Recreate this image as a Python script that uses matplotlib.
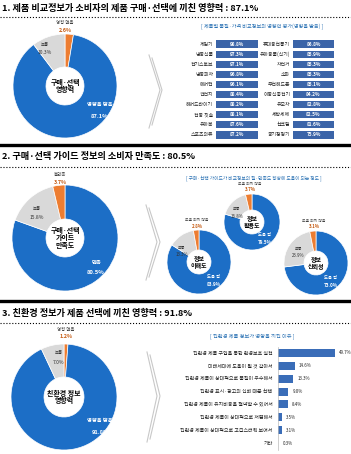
import matplotlib.pyplot as plt
import matplotlib.lines as mlines

plt.rcParams['font.family'] = ['Noto Sans CJK KR', 'DejaVu Sans']

W, H = 351, 454
BLUE = '#1C6EC6'
GRAY = '#D9D9D9'
ORANGE = '#ED7D31'
BAR = '#3B64A8'
HEAD = '#2E74B5'

# section 1 data
pie1_labels = ['영향 없음', '영향을 받음', '보통']
pie1_vals = [2.6, 87.1, 10.3]
tbl_left = ['게임기', '냉동식품', '전기스토브', '냉동피자', '에어컨',
            '건전지', '헤어드라이기', '전동 칫솔', '유아복', '스포츠의류']
tbl_left_vals = [98.8, 97.3, 97.1, 96.8, 96.1, 88.4, 88.2, 88.1, 87.6, 87.2]
tbl_right = ['휴대용선풍기', '유아용품(식기)', '자전거', '소파', '무선헤드폰',
             '이동식충전기', '유모차', '세탁세제', '선크림', '공기청정기']
tbl_right_vals = [86.8, 85.9, 85.3, 85.3, 85.1, 84.2, 82.8, 82.5, 81.6, 75.9]

# section 2 data
pie2_vals = [80.5, 15.8, 3.7]   # 만족, 보통, 불만족
help_names = ['정보\n활용도', '정보\n이해도', '정보\n신뢰성']
help_vals = [[79.5, 16.8, 3.7], [83.9, 13.3, 2.8], [73.0, 23.9, 3.1]]

# section 3 data
pie3_vals = [1.2, 91.8, 7.0]
reasons = ['친환경 제품 구입을 통한 환경보호 실천',
           '미래세대에 도움이 될 것 같아서',
           '친환경 제품이 상대적으로 품질이 우수해서',
           '친환경 표시·광고의 신뢰 때문 선택',
           '친환경 제품이 유지비용을 절약할 수 있어서',
           '친환경 제품이 상대적으로 저렴해서',
           '친환경 제품이 상대적으로 고급스러워 보여서',
           '기타']
reason_vals = [49.7, 14.6, 13.3, 9.0, 8.4, 3.5, 3.1, 0.3]

fig = plt.figure(figsize=(W / 100, H / 100), dpi=100)


def txt(x, y, s, **kw):
    fig.text(x / W, 1 - y / H, s, ha=kw.pop('ha', 'center'),
             va=kw.pop('va', 'center'), **kw)


def hline(y, lw, ls='-', color='black'):
    fig.add_artist(mlines.Line2D([0, 1], [1 - y / H] * 2, lw=lw, ls=ls,
                                 color=color, transform=fig.transFigure))


def chevron(pts):
    xs = [p[0] / W for p in pts]
    ys = [1 - p[1] / H for p in pts]
    fig.add_artist(mlines.Line2D(xs, ys, lw=0.8, color='#c8c8c8',
                                 transform=fig.transFigure))


def donut(cx, cy, r, rin, vals, cols):
    ax = fig.add_axes([(cx - r) / W, 1 - (cy + r) / H, 2 * r / W, 2 * r / H])
    ax.pie(vals, colors=cols, startangle=90, counterclock=False, radius=1,
           wedgeprops=dict(width=1 - rin / r, edgecolor='white', linewidth=0.5))
    ax.set_xlim(-1, 1)
    ax.set_ylim(-1, 1)
    ax.axis('off')
    return ax


def table(x0, x1, names, vals, fs=3.5):
    ax = fig.add_axes([x0 / W, 1 - 140 / H, (x1 - x0) / W, 101 / H])
    ax.barh(range(len(vals)), [1] * len(vals), height=0.72, color=BAR)
    for i, (n, v) in enumerate(zip(names, vals)):
        ax.text(-0.07, i, n, ha='right', va='center', fontsize=fs, color='#222')
        ax.text(0.5, i, f'{v}%', ha='center', va='center', fontsize=3.4,
                color='white', fontweight='bold')
    ax.set_xlim(0, 1)
    ax.set_ylim(len(vals) - 0.5, -0.5)
    ax.axis('off')


# ---------- section 1 ----------
txt(2, 8, '1. 제품 비교정보가 소비자의 제품 구매·선택에 끼친 영향력 : 87.1%',
    ha='left', fontsize=6.6, fontweight='bold')
hline(17, 0.8, ':')
donut(65, 86, 52, 19, pie1_vals, [ORANGE, BLUE, GRAY])
txt(65, 22, '영향 없음', fontsize=3.2, color='#444')
txt(65, 30, '2.6%', fontsize=3.8, color='#C55A11', fontweight='bold')
txt(45, 45, '보통', fontsize=3.2, color='#333')
txt(45, 53, '10.3%', fontsize=3.6, color='#333')
txt(65, 86, '구매·선택\n영향력', fontsize=5, fontweight='bold', linespacing=1.1)
txt(100, 105, '영향을 받음', fontsize=3.8, color='white', fontweight='bold')
txt(100, 116, '87.1%', fontsize=4.2, color='white', fontweight='bold')

txt(262, 27, '[ 제품별 품질·가격 비교정보의 영향력 평가(영향을 받음) ]',
    fontsize=3.7, color=HEAD)
table(216, 258, tbl_left, tbl_left_vals)
table(293, 334, tbl_right, tbl_right_vals)
chevron([(149, 55), (160, 90), (149, 128)])
chevron([(152, 58), (162, 90), (152, 125)])

# ---------- section 2 ----------
hline(145, 2.4)
txt(2, 157, '2. 구매·선택 가이드 정보의 소비자 만족도 : 80.5%',
    ha='left', fontsize=6.6, fontweight='bold')
hline(167, 0.8, ':')
donut(65, 238, 53, 19, pie2_vals, [BLUE, GRAY, ORANGE])
txt(60, 174, '불만족', fontsize=3.2, color='#444')
txt(60, 182, '3.7%', fontsize=3.8, color='#C55A11', fontweight='bold')
txt(37, 209, '보통', fontsize=3.2, color='#333')
txt(37, 217, '15.8%', fontsize=3.6, color='#333')
txt(65, 238, '구매·선택\n가이드\n만족도', fontsize=5, fontweight='bold',
    linespacing=1.05)
txt(96, 263, '만족', fontsize=3.8, color='white', fontweight='bold')
txt(96, 273, '80.5%', fontsize=4.2, color='white', fontweight='bold')

txt(254, 178, '[ 구매·선택 가이드가 비교정보의 질·만족도 향상에 도움이 되는 정도 ]',
    fontsize=3.4, color=HEAD)
small = [(252, 222, 28), (199, 262, 32), (316, 263, 32)]
for (cx, cy, r), name, v in zip(small, help_names, help_vals):
    donut(cx, cy, r, 12, v, [BLUE, GRAY, ORANGE])
    txt(cx, cy, name, fontsize=4.3, fontweight='bold', linespacing=1.05)
    txt(cx - 2, cy - r - 10, '도움 되지 않음', fontsize=2.8, color='#444')
    txt(cx - 2, cy - r - 4, f'{v[2]}%', fontsize=3.2, color='#C55A11',
        fontweight='bold')
    txt(cx - r * 0.55, cy - r * 0.45, '보통', fontsize=2.9, color='#333')
    txt(cx - r * 0.55, cy - r * 0.45 + 7, f'{v[1]}%', fontsize=3.2, color='#333')
    txt(cx + r * 0.45, cy + r * 0.45, '도움 됨', fontsize=3.1, color='white',
        fontweight='bold')
    txt(cx + r * 0.45, cy + r * 0.45 + 8, f'{v[0]}%', fontsize=3.3,
        color='white', fontweight='bold')
chevron([(146, 205), (157, 242), (146, 280)])
chevron([(149, 208), (160, 242), (149, 277)])

# ---------- section 3 ----------
hline(301, 2.4)
txt(2, 313, '3. 친환경 정보가 제품 선택에 끼친 영향력 : 91.8%',
    ha='left', fontsize=6.6, fontweight='bold')
hline(323, 0.8, ':')
donut(64, 397, 53, 20, pie3_vals, [ORANGE, BLUE, GRAY])
txt(66, 329, '영향 없음', fontsize=3.2, color='#444')
txt(66, 337, '1.2%', fontsize=3.8, color='#C55A11', fontweight='bold')
txt(59, 352, '보통', fontsize=3.2, color='#333')
txt(59, 362, '7.0%', fontsize=3.6, color='#333')
txt(64, 397, '친환경 정보\n영향력', fontsize=5, fontweight='bold', linespacing=1.1)
txt(100, 421, '영향을 받음', fontsize=3.8, color='white', fontweight='bold')
txt(100, 433, '91.8%', fontsize=4.2, color='white', fontweight='bold')

txt(252, 336, '[ 친환경 제품 정보가 영향을 끼친 이유 ]', fontsize=3.8, color=HEAD)
ax3 = fig.add_axes([278 / W, 1 - 449.5 / H, 57 / W, 103 / H])
ax3.barh(range(len(reason_vals)), reason_vals, height=0.62, color='#3A6DB8')
for i, (n, v) in enumerate(zip(reasons, reason_vals)):
    ax3.annotate(n, (0, i), xytext=(-4, 0), textcoords='offset points',
                 ha='right', va='center', fontsize=3.6, color='#222')
    ax3.annotate(f'{v}%', (v, i), xytext=(3, 0), textcoords='offset points',
                 ha='left', va='center', fontsize=3.2, color='#222')
ax3.set_xlim(0, 49.7)
ax3.set_ylim(len(reason_vals) - 0.5, -0.5)
for s in ['top', 'right', 'bottom']:
    ax3.spines[s].set_visible(False)
ax3.spines['left'].set_color('#bbbbbb')
ax3.spines['left'].set_linewidth(0.5)
ax3.set_xticks([])
ax3.set_yticks([])
ax3.patch.set_visible(False)
chevron([(147, 352), (157, 396), (147, 442)])
chevron([(150, 355), (160, 396), (150, 439)])

fig.savefig('out.png', dpi=100)
